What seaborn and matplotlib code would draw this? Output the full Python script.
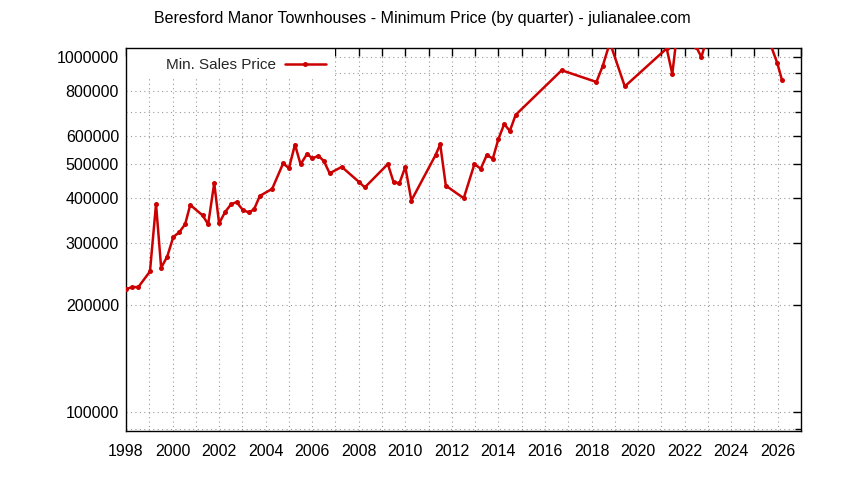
import matplotlib
matplotlib.use("Agg")
import matplotlib.pyplot as plt
from matplotlib.ticker import FixedLocator, FuncFormatter, NullFormatter
from matplotlib.patches import Rectangle
import seaborn as sns
import pandas as pd

# ---- data ----
years = [1998.00, 1998.27, 1998.53, 1999.03, 1999.29, 1999.51, 1999.77, 2000.03,
         2000.29, 2000.54, 2000.76, 2001.29, 2001.53, 2001.79, 2002.00, 2002.26,
         2002.52, 2002.75, 2003.03, 2003.28, 2003.50, 2003.75, 2004.28, 2004.75,
         2005.00, 2005.26, 2005.50, 2005.78, 2006.00, 2006.27, 2006.50, 2006.75,
         2007.27, 2008.00, 2008.26, 2009.25, 2009.50, 2009.75, 2010.00, 2010.26,
         2011.30, 2011.50, 2011.74, 2012.51, 2012.97, 2013.24, 2013.50, 2013.76,
         2014.00, 2014.25, 2014.49, 2014.74, 2016.72, 2018.21, 2018.48, 2018.79,
         2019.43, 2021.23, 2021.47, 2021.75, 2022.50, 2022.72, 2023.00, 2025.50,
         2025.98, 2026.18]
min_price = [222000, 225000, 225000, 249000, 385000, 255000, 274000, 311000,
             321000, 338000, 383000, 358000, 338000, 441000, 340000, 366000,
             385000, 390000, 370000, 365000, 372000, 406000, 425000, 501000,
             486000, 566000, 498000, 533000, 518000, 526000, 509000, 470000,
             490000, 445000, 429000, 499000, 443000, 441000, 490000, 394000,
             529000, 567000, 434000, 400000, 499000, 484000, 529000, 517000,
             587000, 647000, 618000, 686000, 916000, 849000, 941000, 1096000,
             825000, 1055000, 894000, 1280000, 1065000, 998000, 1150000, 1170000,
             960000, 861000]
series_label = "Min. Sales Price"
title_text = "Beresford Manor Townhouses - Minimum Price (by quarter) - julianalee.com"
y_major = [100000, 200000, 300000, 400000, 500000, 600000, 800000, 1000000]
y_minor = [90000, 700000, 900000]
x_labels = list(range(1998, 2027, 2))
x_years = list(range(1998, 2028))

df = pd.DataFrame({"year": years, "price": min_price})

sns.set_theme(style="white")
plt.rcParams["font.family"] = ["Liberation Sans", "DejaVu Sans"]

fig = plt.figure(figsize=(8.44, 4.80), dpi=100)
ax = fig.add_axes([126 / 844, 1 - 431 / 480, (801 - 126) / 844, (431 - 48) / 480])

red = "#cc0000"
sns.lineplot(data=df, x="year", y="price", ax=ax, color=red, linewidth=1.8,
             marker="o", markersize=3.6, markeredgewidth=0, label=series_label,
             zorder=3)

ax.set_yscale("log")
ax.set_xlim(1998, 2027)
ax.set_ylim(88600, 1058000)

ax.yaxis.set_major_locator(FixedLocator(y_major))
ax.yaxis.set_minor_locator(FixedLocator(y_minor))
ax.yaxis.set_major_formatter(FuncFormatter(lambda v, p: "%d" % round(v)))
ax.yaxis.set_minor_formatter(NullFormatter())
ax.xaxis.set_major_locator(FixedLocator(x_labels))
ax.xaxis.set_minor_locator(FixedLocator([y for y in x_years if y not in x_labels]))
ax.xaxis.set_major_formatter(FuncFormatter(lambda v, p: "%d" % round(v)))

ax.set_xlabel("")
ax.set_ylabel("")

ax.set_axisbelow(True)
ax.grid(which="both", axis="both", color="#999999", linestyle=(0, (1, 3)), linewidth=0.8)

for s in ax.spines.values():
    s.set_color("black")
    s.set_linewidth(1.0)

ax.tick_params(which="major", direction="in", length=6, width=1.0, color="black",
               top=True, right=True, labelsize=11.5, labelcolor="black")
ax.tick_params(which="minor", direction="in", length=6, width=1.0, color="black",
               top=True, right=True)
ax.tick_params(axis="y", which="minor", length=4)
ax.tick_params(axis="y", which="major", pad=5)
ax.tick_params(axis="x", which="major", pad=9)

# white box behind the key (hides grid there)
ax.add_patch(Rectangle((0, (431 - 78) / 383), (335 - 126) / 675, 30 / 383,
                       transform=ax.transAxes, facecolor="white", edgecolor="none",
                       zorder=1))

leg = ax.legend(loc="center left", bbox_to_anchor=((158 - 126) / 675, (431 - 65) / 383),
                frameon=False, markerfirst=False, borderpad=0, handlelength=2.7,
                handletextpad=0.6, fontsize=11)

fig.text(0.5, 1 - 19 / 480, title_text, ha="center", va="center", fontsize=11.5,
         color="black")

fig.savefig("out.png", dpi=100, facecolor="white")
